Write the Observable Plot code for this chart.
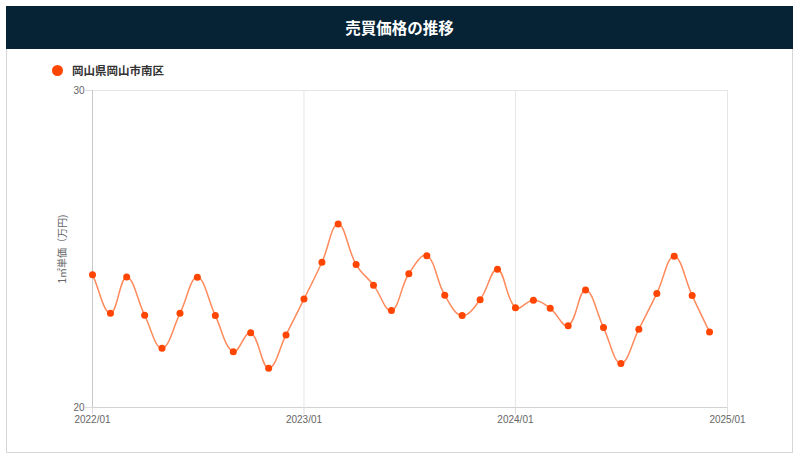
<!DOCTYPE html>
<html><head><meta charset="utf-8">
<script src="https://cdn.jsdelivr.net/npm/d3@7"></script>
<script src="https://cdn.jsdelivr.net/npm/@observablehq/plot@0.6"></script>
<style>
body{margin:0;background:#fff;width:800px;height:462px;position:relative;overflow:hidden;font-family:"Noto Sans CJK JP","Noto Sans",sans-serif;}
#frame{position:absolute;left:6px;top:6px;width:785px;height:445px;border:1px solid #d6d6d6;}
#title{position:absolute;left:6px;top:6px;width:787px;height:43px;background:#062336;color:#fff;font-weight:bold;font-size:15.5px;line-height:43px;text-align:center;}
#legend{position:absolute;left:52px;top:61px;height:18px;display:flex;align-items:center;}
#legend .dot{width:11px;height:11px;border-radius:50%;background:#ff4500;margin-right:9px;}
#legend .txt{font-size:11.5px;font-weight:bold;color:#333;}
#chart{position:absolute;left:0;top:80px;}
</style>
</head><body>
<div id="frame"></div>
<div id="title">売買価格の推移</div>
<div id="legend"><div class="dot"></div><div class="txt" id="legendText"></div></div>
<div id="chart"></div>
<script>
const seriesName = "岡山県岡山市南区";
const months = ["2022-01","2022-02","2022-03","2022-04","2022-05","2022-06","2022-07","2022-08","2022-09","2022-10","2022-11","2022-12",
"2023-01","2023-02","2023-03","2023-04","2023-05","2023-06","2023-07","2023-08","2023-09","2023-10","2023-11","2023-12",
"2024-01","2024-02","2024-03","2024-04","2024-05","2024-06","2024-07","2024-08","2024-09","2024-10","2024-11","2024-12"];
const values = [24.19,22.97,24.12,22.91,21.87,22.97,24.11,22.90,21.76,22.36,21.24,22.29,
23.42,24.58,25.79,24.51,23.86,23.06,24.22,24.79,23.54,22.90,23.40,24.36,
23.15,23.38,23.13,22.58,23.71,22.52,21.39,22.47,23.60,24.77,23.53,22.38];
const xTickLabels = ["2022-01","2023-01","2024-01","2025-01"];
const yTicks = [20,30];
const yLabel = "1㎡単価（万円)";

document.getElementById("legendText").textContent = seriesName;

const parse = d3.utcParse("%Y-%m");
const data = months.map((m,i)=>({date: parse(m), value: values[i]}));
const xTicks = xTickLabels.map(parse);

function chartjsCurve(context) {
  let pts;
  return {
    areaStart(){}, areaEnd(){},
    lineStart(){ pts = []; },
    point(x,y){ pts.push([+x,+y]); },
    lineEnd(){
      const n = pts.length; if(!n) return;
      const t = 0.4;
      const cps = pts.map((p,i)=>{
        const prev = pts[i>0?i-1:0], next = pts[Math.min(i+1,n-1)];
        const d01 = Math.hypot(p[0]-prev[0], p[1]-prev[1]);
        const d12 = Math.hypot(next[0]-p[0], next[1]-p[1]);
        let s01 = d01/(d01+d12), s12 = d12/(d01+d12);
        if(!isFinite(s01)) s01=0; if(!isFinite(s12)) s12=0;
        const fa=t*s01, fb=t*s12;
        return {cp1:[p[0]-fa*(next[0]-prev[0]), p[1]-fa*(next[1]-prev[1])],
                cp2:[p[0]+fb*(next[0]-prev[0]), p[1]+fb*(next[1]-prev[1])]};
      });
      context.moveTo(pts[0][0], pts[0][1]);
      for(let i=1;i<n;i++) context.bezierCurveTo(cps[i-1].cp2[0], cps[i-1].cp2[1], cps[i].cp1[0], cps[i].cp1[1], pts[i][0], pts[i][1]);
    }
  };
}

const chart = Plot.plot({
  width: 800, height: 350,
  marginTop: 10, marginBottom: 23, marginLeft: 92, marginRight: 73,
  style: {fontFamily: "'Liberation Sans', Arial, 'Noto Sans CJK JP', sans-serif", fontSize: "10px", color: "#666", background: "transparent", overflow: "visible"},
  x: {type: "utc", domain: [xTicks[0], xTicks[xTicks.length-1]]},
  y: {domain: [20, 30]},
  marks: [
    Plot.gridX(xTicks, {stroke: "#e6e6e6", strokeOpacity: 1}),
    Plot.ruleY([30], {stroke: "#e6e6e6"}),
    Plot.ruleY([20], {stroke: "#d2d2d2"}),
    Plot.ruleX([xTicks[0]], {stroke: "#c8c8c8"}),
    Plot.axisX(xTicks, {tickFormat: d3.utcFormat("%Y/%m"), tickSize: 7, tickPadding: 1, stroke: "#ddd", fill: "#666", label: null}),
    Plot.axisY(yTicks, {tickSize: 7, tickPadding: 1, stroke: "#ddd", fill: "#666", label: yLabel, labelAnchor: "center", labelArrow: "none", labelOffset: 34}),
    Plot.line(data, {x: "date", y: "value", stroke: "#ff8a5c", strokeWidth: 1.5, curve: chartjsCurve}),
    Plot.dot(data, {x: "date", y: "value", r: 3.5, fill: "#ff4500", stroke: "none"})
  ]
});
document.getElementById("chart").appendChild(chart);
</script>
</body></html>
